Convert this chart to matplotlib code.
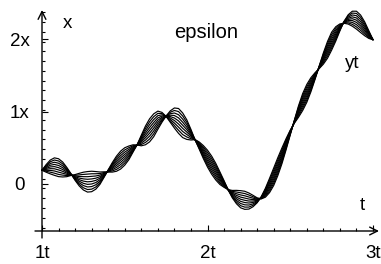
import numpy as np
import matplotlib
matplotlib.use("Agg")
import matplotlib.pyplot as plt

plt.rcParams['font.family'] = ['Liberation Sans', 'DejaVu Sans']

# ---- data ----
t_start, t_step = 1.0, 0.025          # samples at t = 1.000, 1.025, ..., 3.000
# base path x(t)
x_base = [0.19, 0.215, 0.235, 0.24, 0.225, 0.20, 0.165, 0.13, 0.09, 0.06,
          0.04, 0.03, 0.035, 0.05, 0.08, 0.13, 0.18, 0.23, 0.28, 0.33,
          0.38, 0.43, 0.49, 0.54, 0.60, 0.67, 0.74, 0.81, 0.88, 0.92,
          0.935, 0.93, 0.91, 0.87, 0.81, 0.75, 0.68, 0.61, 0.53, 0.44,
          0.35, 0.26, 0.17, 0.08, 0.00, -0.08, -0.14, -0.18, -0.21, -0.225,
          -0.235, -0.235, -0.225, -0.19, -0.12, -0.02, 0.10, 0.24, 0.39, 0.55,
          0.71, 0.86, 1.00, 1.13, 1.25, 1.37, 1.49, 1.61, 1.73, 1.85,
          1.97, 2.07, 2.16, 2.23, 2.27, 2.28, 2.26, 2.21, 2.14, 2.06, 1.99]
# variation shape eta(t)
eta = [0.000, 0.420, 0.763, 0.964, 0.986, 0.825, 0.511, 0.101, -0.320, -0.698,
       -0.981, -1.132, -1.129, -0.972, -0.685, -0.304, 0.121, 0.527, 0.835, 0.989,
       0.959, 0.752, 0.405, -0.023, -0.585, -1.031, -1.273, -1.262, -1.002, -0.543,
       0.025, 0.630, 1.110, 1.371, 1.359, 1.079, 0.585, -0.016, -0.397, -0.718,
       -0.930, -1.000, -0.918, -0.696, -0.368, 0.016, 0.411, 0.738, 0.945, 0.997,
       0.887, 0.631, 0.273, -0.125, -0.495, -0.790, -0.965, -0.992, -0.868, -0.613,
       -0.264, 0.166, 0.634, 0.935, 0.988, 0.779, 0.366, -0.145, -0.618, -0.927,
       -0.991, -0.793, -0.385, 0.104, 0.512, 0.826, 0.986, 0.964, 0.763, 0.420, 0.000]
epsilons = [-0.125, -0.094, -0.0625, -0.031, 0.0, 0.031, 0.0625, 0.094, 0.125]

x_ticks = [1, 2, 3]
x_tick_labels = ["1t", "2t", "3t"]
y_ticks = [0, 1, 2]
y_tick_labels = ["0", "1x", "2x"]

# ---- figure ----
W, H = 381, 264
fig = plt.figure(figsize=(W / 100, H / 100), dpi=100)
ax = fig.add_axes([0, 0, 1, 1])
px_per_t = 165.5
px_per_y = 72.5
t0_px, y0_px = 42, 184   # pixel (from top) of t=1, y=0
ax.set_xlim(1 - t0_px / px_per_t, 1 + (W - t0_px) / px_per_t)
ax.set_ylim((y0_px - H) / px_per_y, y0_px / px_per_y)

def tx(px):
    return 1 + (px - t0_px) / px_per_t

def ty(py):
    return (y0_px - py) / px_per_y

xb = np.array(x_base)
et = np.array(eta)
tt = t_start + t_step * np.arange(len(xb))
for e in epsilons:
    ax.plot(tt, xb + e * et, color='black', lw=0.85, solid_capstyle='round')

# axes lines with arrows
y_axis_level = ty(231)
ax.annotate('', xy=(tx(379), y_axis_level), xytext=(tx(35), y_axis_level),
            arrowprops=dict(arrowstyle='->', lw=1.0, color='black', mutation_scale=14,
                            shrinkA=0, shrinkB=0))
ax.annotate('', xy=(1, ty(10)), xytext=(1, ty(238)),
            arrowprops=dict(arrowstyle='->', lw=1.0, color='black', mutation_scale=14,
                            shrinkA=0, shrinkB=0))

for s in ax.spines.values():
    s.set_visible(False)
ax.spines['left'].set_position(('data', 1))
ax.spines['bottom'].set_position(('data', y_axis_level))

ax.set_xticks(x_ticks)
ax.set_xticklabels(x_tick_labels)
ax.set_xticks(np.arange(1.1, 3.0, 0.1), minor=True)
ax.set_yticks(y_ticks)
ax.set_yticklabels(y_tick_labels)
ax.set_yticks(np.arange(-0.6, 2.4, 0.135), minor=True)
ax.tick_params(axis='both', which='major', direction='in', length=4, width=0.8,
               labelsize=13.5, colors='black')
ax.tick_params(axis='both', which='minor', direction='in', length=2.5, width=0.8)
ax.tick_params(axis='x', which='major', pad=10)
ax.tick_params(axis='y', which='major', pad=16)
for lab in ax.get_yticklabels():
    lab.set_horizontalalignment('center')

fs = 13.5
ax.text(tx(67), ty(23), "x", fontsize=fs, ha='center', va='center')
ax.text(tx(362), ty(205), "t", fontsize=fs, ha='center', va='center')
ax.text(tx(206), ty(33), "epsilon", fontsize=14.5, ha='center', va='center')
ax.text(tx(352), ty(63), "yt", fontsize=fs, ha='center', va='center')

fig.savefig("out.png", dpi=100)
